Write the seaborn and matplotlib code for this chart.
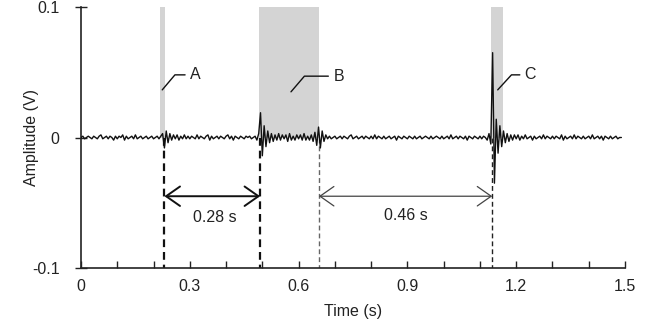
import numpy as np
import pandas as pd
import matplotlib
matplotlib.use("Agg")
import matplotlib.pyplot as plt
import seaborn as sns

# ---- data ----
sample_step = 0.005  # s
amp_mV = [
    0, 1, -1, 0, 1, 0, -1, 1, 0, -1, 1, 2, -1, 0, 1, -1, 1, 0, -2, 1,
    -1, 1, 0, 2, -2, 1, -1, 0, 1, -1, 2, -1, 0, 1, -1, 0, 1, -1, 0, 1,
    -1, 0, 1, -1, 1, 3, -8, 5, -4, 3, -2, 2, -1, 2, -2, 1, -1, 2, -1, 1,
    -1, 1, 0, -1, 2, -1, 1, 0, -1, 1, 2, -2, 1, -1, 0, 1, -1, 1, 0, -1,
    1, 2, -1, 1, -2, 1, 0, -1, 1, 0, -1, 1, 0, 1, -1, 0, 1, -2, 3, 19,
    -14, 9, -7, 5, -4, 3, -3, 2, -2, 3, -2, 2, -1, 2, -3, 3, -2, 1, -2, 2,
    -1, 2, -2, 3, -2, 1, -2, 2, -3, 4, -6, 8, -8, 5, -3, 2, -1, 1, -1, 0,
    1, -1, 0, 1, -1, 1, 0, -1, 1, 2, -1, 0, 1, -1, 0, 1, -1, 1, 0, -1,
    1, -1, 2, -1, 1, 0, -1, 1, -1, 0, 1, -1, 0, 1, -2, 1, 0, -1, 1, 0,
    -1, 1, 0, -1, 1, -1, 0, 1, -1, 0, 1, 0, -1, 1, -1, 0, 1, 0, -1, 1,
    -1, 0, 1, -1, 2, -1, 0, 1, -1, 1, 0, -1, 1, -2, 1, 0, -1, 1, 0, -1,
    1, -1, 1, 0, -2, 3, -5, 65, -35, 14, -12, 9, -7, 5, -4, 3, -3, 2, -2, 2,
    -1, 2, -2, 1, -1, 2, -1, 0, 1, -2, 1, -1, 0, 1, -1, 2, -1, 1, 0, -1,
    1, -1, 1, 0, -1, 2, -2, 1, -1, 0, 1, -1, 2, -1, 1, 0, -1, 1, -1, 0,
    1, -1, 2, -1, 0, 1, -1, 1, -2, 1, 0, -1, 1, -1, 0, 1, -1, 0, 0,
]
band_labels = ["A", "B", "C"]
band_start = [0.219, 0.492, 1.130]
band_end = [0.232, 0.655, 1.163]
event_times = [0.230, 0.494, 0.656, 1.134]
interval_labels = ["0.28 s", "0.46 s"]
x_ticks = [0, 0.3, 0.6, 0.9, 1.2, 1.5]
x_tick_labels = ["0", "0.3", "0.6", "0.9", "1.2", "1.5"]
y_ticks = [-0.1, 0, 0.1]
y_tick_labels = ["-0.1", "0", "0.1"]

df = pd.DataFrame({
    "Time (s)": np.arange(len(amp_mV)) * sample_step,
    "Amplitude (V)": np.array(amp_mV) / 1000.0,
})

sns.set_theme(style="ticks")
plt.rcParams["font.family"] = ["Liberation Sans", "DejaVu Sans"]
FS = 11.5
TC = "#222222"

fig = plt.figure(figsize=(6.61, 3.33), dpi=100)
ax = fig.add_axes([81 / 661, 65 / 333, 544 / 661, 261 / 333])

# shaded bands (upper half only)
for s, e in zip(band_start, band_end):
    ax.fill_between([s, e], 0, 0.1, color="#d4d4d4", lw=0, zorder=1)

sns.lineplot(data=df, x="Time (s)", y="Amplitude (V)", ax=ax, color="#111111",
             lw=1.0, estimator=None, errorbar=None, zorder=3)

# dashed event lines
dash_styles = [("#111111", 1.6), ("#111111", 1.6), ("#666666", 1.0), ("#222222", 1.0)]
for t, (c, w) in zip(event_times, dash_styles):
    ax.plot([t, t], [0, -0.1], ls=(0, (3.5, 2.2)), color=c, lw=w, zorder=2)

# interval arrows
arr_y = -0.045
ax.annotate("", xy=(event_times[1], arr_y), xytext=(event_times[0], arr_y),
            arrowprops=dict(arrowstyle="<->,head_length=1.0,head_width=0.7",
                            color="#111111", lw=1.4, shrinkA=0, shrinkB=0,
                            mutation_scale=10))
ax.annotate("", xy=(event_times[3], arr_y), xytext=(event_times[2], arr_y),
            arrowprops=dict(arrowstyle="<->,head_length=1.0,head_width=0.7",
                            color="#444444", lw=0.9, shrinkA=0, shrinkB=0,
                            mutation_scale=10))
ax.text(0.368, -0.061, interval_labels[0], ha="center", va="center", fontsize=FS, color=TC)
ax.text(0.895, -0.0595, interval_labels[1], ha="center", va="center", fontsize=FS, color=TC)

# leader lines and band labels
leaders = [
    ([0.224, 0.259, 0.287], [0.0365, 0.048, 0.048], 0.300),
    ([0.579, 0.616, 0.682], [0.035, 0.047, 0.047], 0.697),
    ([1.149, 1.187, 1.210], [0.0365, 0.048, 0.048], 1.222),
]
for lab, (xs, ys, tx) in zip(band_labels, leaders):
    ax.plot(xs, ys, color="#111111", lw=1.0, zorder=4)
    ax.text(tx, ys[-1], lab, ha="left", va="center", fontsize=FS, color=TC)

ax.set_xlim(0, 1.5)
ax.set_ylim(-0.1, 0.1)
ax.set_xticks(x_ticks)
ax.set_xticklabels(x_tick_labels)
ax.set_xticks(np.arange(0, 1.51, 0.1), minor=True)
ax.set_yticks(y_ticks)
ax.set_yticklabels(y_tick_labels)
ax.tick_params(axis="x", which="both", direction="in", length=5, width=1.0,
               color=TC, labelsize=FS, pad=8, labelcolor=TC)
ax.tick_params(axis="y", which="both", direction="inout", length=9, width=1.0,
               color=TC, labelsize=FS, pad=11, labelcolor=TC)
for sp in ["top", "right"]:
    ax.spines[sp].set_visible(False)
for sp in ["left", "bottom"]:
    ax.spines[sp].set_color(TC)
    ax.spines[sp].set_linewidth(1.2)
ax.set_xlabel("Time (s)", fontsize=FS, color=TC, labelpad=7)
ax.set_ylabel("Amplitude (V)", fontsize=FS, color=TC, labelpad=-5)

fig.savefig("out.png", dpi=100)
